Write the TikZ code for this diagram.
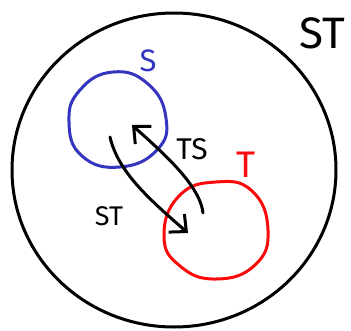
\documentclass[tikz,border=0pt]{standalone}
\usepackage{fontspec}
\setmainfont{Fira Sans}
\usetikzlibrary{arrows.meta}
\definecolor{sblue}{RGB}{52,52,190}
\definecolor{tred}{RGB}{250,10,10}
\tikzset{
  ink/.style={line width=3pt, line cap=round, line join=round},
  lab/.style={inner sep=0pt, font=\fontsize{#1}{#1}\selectfont},
  barb/.style={-{Straight Barb[length=13pt,width=24pt,line width=3pt]}}
}
\begin{document}
\begin{tikzpicture}[x=1pt,y=-1pt]
\useasboundingbox (0,0) rectangle (351,330);
% big set ST
\draw[ink] (174,170) ellipse [x radius=162, y radius=157];
% set S
\draw[ink, sblue] plot[smooth cycle, tension=0.8] coordinates
  {(113,72) (148,84) (166,118) (157,150) (120,167) (82,156) (69,122) (80,90)};
% set T
\draw[ink, tred] plot[smooth cycle, tension=0.8] coordinates
  {(216,182) (252,191) (268,230) (255,265) (216,279) (180,266) (164,236) (179,196)};
% arrow end points
\coordinate (sA) at (110,137);
\coordinate (tA) at (188,233);
\coordinate (tB) at (203,213);
\coordinate (sB) at (132,125);
\draw[ink, barb] (sA) .. controls (118,172) and (150,200) .. (tA);
\draw[ink, barb] (tB) .. controls (200,185) and (162,152) .. (sB);
% labels
\node[lab=44] (lST) at (322,33) {ST};
\node[lab=31, text=sblue] (lS) at (148,61) {S};
\node[lab=37, text=tred] (lT) at (246,165) {T};
\node[lab=30] (lTS) at (192,149) {TS};
\node[lab=27] (lST2) at (109,216) {ST};
\end{tikzpicture}
\end{document}
